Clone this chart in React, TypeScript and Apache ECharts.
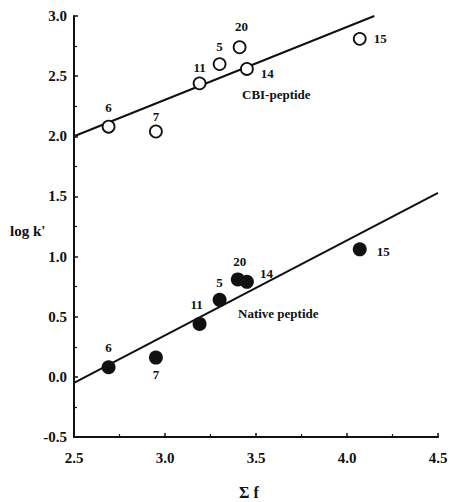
import React, { useEffect, useRef } from "react";
import * as echarts from "echarts";

const pointIds = ["6", "7", "11", "5", "20", "14", "15"];
const cbiX = [2.69, 2.95, 3.19, 3.3, 3.41, 3.45, 4.07];
const cbiY = [2.08, 2.04, 2.44, 2.6, 2.74, 2.56, 2.81];
const nativeX = [2.69, 2.95, 3.19, 3.3, 3.4, 3.45, 4.07];
const nativeY = [0.08, 0.16, 0.44, 0.64, 0.81, 0.79, 1.06];
const cbiFit = [
  [2.5, 2.0],
  [4.15, 3.0],
];
const nativeFit = [
  [2.5, -0.05],
  [4.5, 1.53],
];
const xTicks = { min: 2.5, max: 4.5, interval: 0.5 };
const yTicks = { min: -0.5, max: 3.0, interval: 0.5 };

// label placement per point: [position, dx, dy]
const cbiLabelPos: [string, number, number][] = [
  ["top", 0, -2],
  ["top", 0, 2],
  ["top", 0, 2],
  ["top", 0, 0],
  ["top", 2, -3],
  ["right", 3, 5],
  ["right", 3, 0],
];
const nativeLabelPos: [string, number, number][] = [
  ["top", 0, -2],
  ["bottom", 0, -1],
  ["top", -3, -2],
  ["top", 0, 0],
  ["top", 2, 0],
  ["right", 2, -8],
  ["right", 6, 2],
];

const FONT = "'Liberation Serif', 'DejaVu Serif', serif";

export default function App() {
  const ref = useRef<HTMLDivElement>(null);
  useEffect(() => {
    if (!ref.current) return;
    const chart = echarts.init(ref.current, undefined, { renderer: "svg" });
    const mkData = (xs: number[], ys: number[], pos: [string, number, number][]) =>
      xs.map((x, i) => ({
        value: [x, ys[i]],
        label: {
          show: true,
          formatter: pointIds[i],
          position: pos[i][0] as any,
          offset: [pos[i][1], pos[i][2]],
          distance: 4,
          fontFamily: FONT,
          fontWeight: "bold",
          fontSize: 13,
          color: "#111",
        },
      }));
    const axisLabel = {
      fontFamily: FONT,
      fontWeight: "bold" as const,
      fontSize: 15,
      color: "#111",
    };
    chart.setOption({
      animation: false,
      backgroundColor: "#fff",
      grid: { left: 74, right: 13, top: 16, bottom: 65 },
      xAxis: {
        type: "value",
        ...xTicks,
        axisLine: { show: true, onZero: false, lineStyle: { color: "#111", width: 2 } },
        axisTick: { show: true, inside: true, length: 4, lineStyle: { color: "#111", width: 1.5 } },
        minorTick: { show: true, splitNumber: 2, length: 3, lineStyle: { color: "#111", width: 1.2 } },
        splitLine: { show: false },
        axisLabel: { ...axisLabel, margin: 13, formatter: (v: number) => v.toFixed(1) },
      },
      yAxis: {
        type: "value",
        ...yTicks,
        axisLine: { show: true, onZero: false, lineStyle: { color: "#111", width: 2 } },
        axisTick: { show: true, inside: true, length: 4, lineStyle: { color: "#111", width: 1.5 } },
        minorTick: { show: true, splitNumber: 2, length: 3, lineStyle: { color: "#111", width: 1.2 } },
        splitLine: { show: false },
        axisLabel: { ...axisLabel, margin: 7, formatter: (v: number) => v.toFixed(1) },
      },
      series: [
        {
          type: "line",
          data: cbiFit,
          symbol: "none",
          lineStyle: { color: "#111", width: 2 },
          z: 1,
        },
        {
          type: "line",
          data: nativeFit,
          symbol: "none",
          lineStyle: { color: "#111", width: 2 },
          z: 1,
        },
        {
          type: "scatter",
          data: mkData(cbiX, cbiY, cbiLabelPos),
          symbol: "circle",
          symbolSize: 12,
          itemStyle: { color: "#fff", borderColor: "#111", borderWidth: 1.8, opacity: 1 },
          z: 3,
        },
        {
          type: "scatter",
          data: mkData(nativeX, nativeY, nativeLabelPos),
          symbol: "circle",
          symbolSize: 14,
          itemStyle: { color: "#111", opacity: 1 },
          z: 3,
        },
      ],
      graphic: [
        {
          type: "text",
          left: 242,
          top: 88,
          style: { text: "CBI-peptide", font: `bold 13px ${FONT}`, fill: "#111" },
        },
        {
          type: "text",
          left: 238,
          top: 307,
          style: { text: "Native peptide", font: `bold 13px ${FONT}`, fill: "#111" },
        },
        {
          type: "text",
          left: 10,
          top: 223,
          style: { text: "log k'", font: `bold 15px ${FONT}`, fill: "#111" },
        },
        {
          type: "text",
          left: 239,
          top: 484,
          style: { text: "Σ f", font: `bold 16px ${FONT}`, fill: "#111" },
        },
      ],
    });
    return () => chart.dispose();
  }, []);
  return <div ref={ref} style={{ width: 451, height: 502, position: "absolute", left: 0, top: 0 }} />;
}
